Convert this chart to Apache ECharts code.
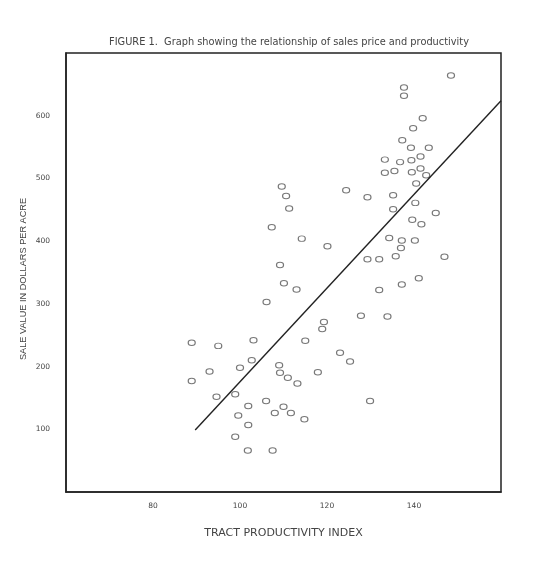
<!DOCTYPE html>
<html>
<head>
<meta charset="utf-8">
<script src="https://cdn.jsdelivr.net/npm/echarts@6/dist/echarts.min.js"></script>
<style>html,body{margin:0;padding:0;background:#fff;}#c{width:551px;height:575px;}</style>
</head>
<body>
<div id="c"></div>
<script>
const titleText = "FIGURE 1.  Graph showing the relationship of sales price and productivity";
const xName = "TRACT PRODUCTIVITY INDEX";
const yName = "SALE VALUE IN DOLLARS PER ACRE";

const productivity = [148.5,137.7,137.7,142,139.8,137.3,139.3,143.4,133.3,136.8,139.4,141.5,133.3,135.5,139.5,141.5,142.8,140.5,129.3,135.2,140.3,135.2,145,139.6,141.7,134.3,137.2,140.2,137,129.3,132,135.8,147,141.1,137.2,132,127.8,133.9,109.6,110.6,111.3,124.4,107.3,114.2,120.1,109.2,110.1,113,106.1,119.3,118.9,88.9,95,103.1,115,123,125.3,102.7,93,100,109,109.2,111,113.2,117.9,88.9,94.6,98.9,106,101.9,110,108,111.7,99.6,114.8,101.9,98.9,101.8,107.5,129.9];
const saleValue = [664,645,632,596,580,561,549,549,530,526,529,535,509,512,510,516,505,492,470,473,461,451,445,434,427,405,401,401,389,371,371,376,375,341,331,322,281,280,487,472,452,481,422,404,392,362,333,323,303,271,260,238,233,242,241,222,208,210,192,198,202,190,182,173,191,177,152,156,145,137,136,126,126,122,116,107,88,66,66,145];

const lineX = [89.7, 160];
const lineY = [99, 624];

const xTicks = [80, 100, 120, 140];
const yTicks = [100, 200, 300, 400, 500, 600];

const chart = echarts.init(document.getElementById('c'));
const fontFam = "'Liberation Sans', Arial, sans-serif";
const wideFam = "'DejaVu Sans', sans-serif";
chart.setOption({
  animation: false,
  backgroundColor: '#fff',
  grid: {left: 66, top: 53, right: 50, bottom: 83, show: true, borderColor: '#222', borderWidth: 1.5},
  xAxis: {
    type: 'value', min: 60, max: 160, interval: 20,
    axisLine: {show: true, lineStyle: {color: '#222', width: 1.5}},
    axisTick: {show: false}, splitLine: {show: false},
    axisLabel: {margin: 10, color: '#444', fontSize: 7.5, fontFamily: wideFam,
      formatter: v => xTicks.includes(v) ? String(v) : ''},
    name: xName, nameLocation: 'middle', nameGap: 36,
    nameTextStyle: {color: '#444', fontSize: 11, fontFamily: wideFam}
  },
  yAxis: {
    type: 'value', min: 0, max: 700, interval: 100,
    axisLine: {show: true, lineStyle: {color: '#222', width: 1.5}},
    axisTick: {show: false}, splitLine: {show: false},
    axisLabel: {margin: 16, color: '#444', fontSize: 7.5, fontFamily: wideFam,
      formatter: v => yTicks.includes(v) ? String(v) : ''}
  },
  graphic: [
    {type: 'text', position: [289, 42], style: {text: titleText, fill: '#444', font: '9.8px ' + wideFam, textAlign: 'center', textVerticalAlign: 'middle'}},
    {type: 'text', position: [23, 279], rotation: Math.PI / 2, style: {text: yName, fill: '#444', font: '9.2px ' + fontFam, textAlign: 'center', textVerticalAlign: 'middle'}}
  ],
  series: [
    {
      type: 'scatter',
      data: productivity.map((x, i) => [x, saleValue[i]]),
      symbol: 'circle', symbolSize: [7, 5.5],
      itemStyle: {color: 'rgba(255,255,255,0)', borderColor: '#555', borderWidth: 1.1}
    },
    {
      type: 'line',
      data: lineX.map((x, i) => [x, lineY[i]]),
      symbol: 'none',
      lineStyle: {color: '#222', width: 1.4}
    }
  ]
});
</script>
</body>
</html>
